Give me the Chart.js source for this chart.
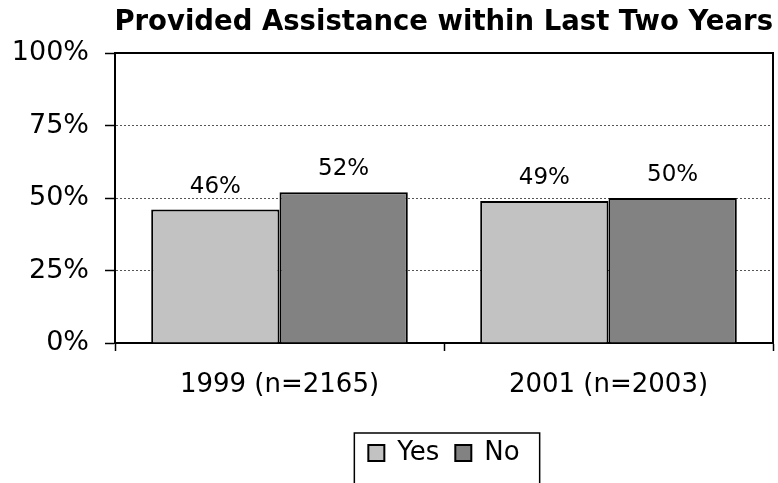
<!DOCTYPE html>
<html>
<head>
<meta charset="utf-8">
<script src="https://cdn.jsdelivr.net/npm/chart.js@4"></script>
<style>
  html, body { margin: 0; padding: 0; background: #fff; }
  #wrap { width: 778px; height: 483px; position: relative; }
</style>
</head>
<body>
<div id="wrap"><canvas id="grafica"></canvas></div>
<script>
const categorias = ['1999 (n=2165)', '2001 (n=2003)'];
const valores_si = [46, 49];
const valores_no = [52, 50];
const ticks_y = [0, 25, 50, 75, 100];

const fuente = '"DejaVu Sans", sans-serif';

// etiquetas de porcentaje encima de cada barra
const etiquetas = {
  id: 'etiquetas',
  afterDatasetsDraw(chart) {
    const ctx = chart.ctx;
    ctx.save();
    ctx.font = '23px ' + fuente;
    ctx.fillStyle = '#000';
    ctx.textAlign = 'center';
    ctx.textBaseline = 'alphabetic';
    chart.data.datasets.forEach((ds, i) => {
      chart.getDatasetMeta(i).data.forEach((bar, j) => {
        ctx.fillText(ds.data[j] + '%', bar.x, bar.y - 17);
      });
    });
    ctx.restore();
  }
};

// marco del area de la grafica y recuadro de la leyenda
const marco = {
  id: 'marco',
  afterDraw(chart) {
    const ctx = chart.ctx;
    const a = chart.chartArea;
    ctx.save();
    ctx.strokeStyle = '#000';
    ctx.lineWidth = 2;
    ctx.beginPath();
    ctx.moveTo(a.left, a.top);
    ctx.lineTo(a.right, a.top);
    ctx.lineTo(a.right, a.bottom);
    ctx.stroke();
    const cajas = chart.legend.legendHitBoxes;
    if (cajas && cajas.length) {
      const izq = Math.min(...cajas.map(b => b.left)) - 14;
      const der = Math.max(...cajas.map(b => b.left + b.width)) + 20;
      const arr = Math.min(...cajas.map(b => b.top)) - 7;
      ctx.lineWidth = 1.5;
      ctx.strokeRect(izq, arr, der - izq, chart.height - arr + 10);
    }
    ctx.restore();
  }
};

const ctx1 = document.getElementById('grafica').getContext('2d');

new Chart(ctx1, {
  type: 'bar',
  data: {
    labels: categorias,
    datasets: [
      {
        label: 'Yes',
        data: valores_si,
        backgroundColor: '#c2c2c2',
        borderColor: '#000',
        borderWidth: 2,
        categoryPercentage: 0.78,
        barPercentage: 1
      },
      {
        label: 'No',
        data: valores_no,
        backgroundColor: '#828282',
        borderColor: '#000',
        borderWidth: 2,
        categoryPercentage: 0.78,
        barPercentage: 1
      }
    ]
  },
  options: {
    responsive: true,
    maintainAspectRatio: false,
    animation: false,
    layout: { padding: { left: 0, right: 5, top: 0, bottom: 7 } },
    plugins: {
      tooltip: { enabled: false },
      title: {
        display: true,
        text: 'Provided Assistance within Last Two Years',
        align: 'end',
        color: '#000',
        padding: { top: 6, bottom: 14 },
        font: { family: fuente, size: 27.5, weight: 'bold' }
      },
      legend: {
        display: true,
        position: 'bottom',
        fullSize: false,
        labels: {
          color: '#000',
          boxWidth: 16,
          boxHeight: 16,
          padding: 16,
          font: { family: fuente, size: 26 }
        }
      }
    },
    scales: {
      x: {
        grid: {
          offset: true,
          drawOnChartArea: false,
          drawTicks: true,
          tickLength: 8,
          tickColor: '#000',
          tickWidth: 1.5
        },
        border: { display: true, color: '#000', width: 2 },
        ticks: {
          color: '#000',
          padding: 19,
          font: { family: fuente, size: 26 }
        },
        afterFit(scale) { scale.height = 81; }
      },
      y: {
        min: 0,
        max: 100,
        afterBuildTicks(scale) { scale.ticks = ticks_y.map(v => ({ value: v })); },
        grid: {
          color: c => (c.tick && (c.tick.value === 0 || c.tick.value === 100)) ? 'rgba(0,0,0,0)' : '#555',
          lineWidth: 1,
          drawTicks: true,
          tickLength: 10,
          tickColor: '#000',
          tickWidth: 1.5
        },
        border: { display: true, color: '#000', width: 2, dash: [2, 2] },
        ticks: {
          color: '#000',
          padding: 16,
          callback: v => v + '%',
          font: { family: fuente, size: 27 }
        },
        afterFit(scale) { scale.width = 115; }
      }
    }
  },
  plugins: [etiquetas, marco]
});
</script>
</body>
</html>
